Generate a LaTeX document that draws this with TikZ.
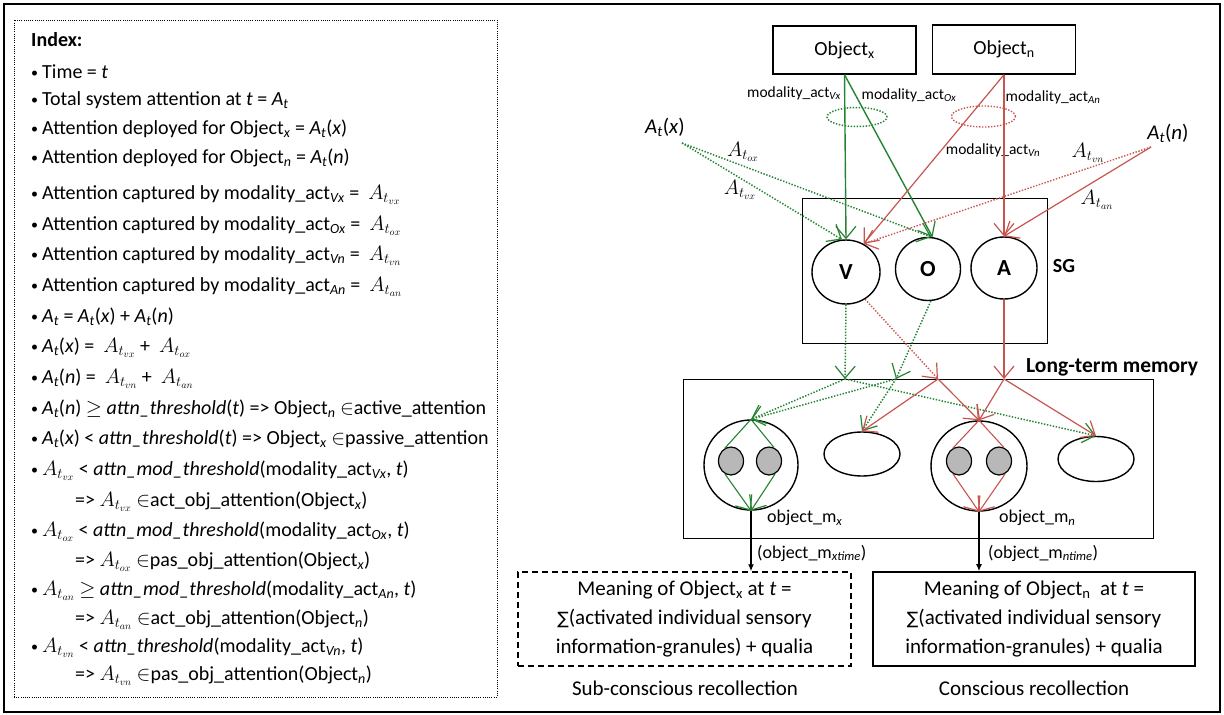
\documentclass[tikz,border=0pt]{standalone}
\usepackage{fontspec}
\setmainfont{Carlito}
\newfontfamily\dv{DejaVu Sans}
\usetikzlibrary{arrows.meta,shapes.geometric}
\definecolor{grn}{RGB}{36,132,50}
\definecolor{rd}{RGB}{200,84,80}
\newcommand{\At}{\textit{A}\textsubscript{\textit{t}}}
\newcommand{\Att}[1]{\ensuremath{A_{t_{#1}}}}
\newcommand{\sbi}[1]{\textsubscript{\textit{#1}}}
\newcommand{\bl}{\makebox[11pt][l]{\raisebox{1pt}{\fontsize{14}{14}\selectfont\textbullet}}}
\newcommand{\sm}{{\dv\fontsize{17}{17}\selectfont ∑}}
\begin{document}
\begin{tikzpicture}[x=1pt,y=-1pt,
  idx/.style={anchor=base west, inner sep=0pt, font=\fontsize{20}{23}\selectfont},
  box/.style={draw, line width=1.4pt, rectangle, inner sep=0pt},
  circ/.style={draw, line width=1.4pt, ellipse, inner sep=0pt, font=\fontsize{23}{26}\selectfont\bfseries},
  gcirc/.style={draw, line width=1.2pt, fill=black!28, ellipse, inner sep=0pt, minimum width=25pt, minimum height=28pt},
  gsol/.style={draw=grn, line width=1.4pt},
  rsol/.style={draw=rd, line width=1.2pt},
  gdot/.style={draw=grn, line width=1.5pt, dash pattern=on 1.4pt off 1.6pt},
  rdot/.style={draw=rd, line width=1.4pt, dash pattern=on 1.4pt off 1.6pt},
  barb/.style={-{Straight Barb[length=12pt,width=20pt,line width=1.2pt]}},
  lbl/.style={inner sep=0pt, font=\fontsize{15.5}{18}\selectfont},
  big/.style={inner sep=0pt, font=\fontsize{20}{29}\selectfont},
  btxt/.style={inner sep=0pt, font=\fontsize{21}{29}\selectfont},
  ]
\useasboundingbox (0,0) rectangle (1224,715);
\draw[line width=1.2pt] (4,4) rectangle (1220,712);

% ---------- index ----------
\node[draw, line width=1pt, dash pattern=on 1pt off 1.2pt, minimum width=483pt, minimum height=677pt, inner sep=0pt] (idxframe) at (255.5,358.5) {};
\node[idx] (l0) at (31,46.5) {\textbf{Index:}};
\node[idx] (l1) at (31,78.5) {\bl Time = \textit{t}};
\node[idx] (l2) at (31,105.5) {\bl Total system attention at \textit{t} = \At};
\node[idx] (l3) at (31,134.5) {\bl Attention deployed for Object\sbi{x} = \At(\textit{x})};
\node[idx] (l4) at (31,163.5) {\bl Attention deployed for Object\sbi{n} = \At(\textit{n})};
\node[idx] (l5) at (31,199.5) {\bl Attention captured by modality\_act\sbi{Vx} = ~\Att{vx}};
\node[idx] (l6) at (31,230.5) {\bl Attention captured by modality\_act\sbi{Ox} = ~\Att{ox}};
\node[idx] (l7) at (31,260.5) {\bl Attention captured by modality\_act\sbi{Vn} = ~\Att{vn}};
\node[idx] (l8) at (31,291.5) {\bl Attention captured by modality\_act\sbi{An} = ~\Att{an}};
\node[idx] (l9) at (31,322.5) {\bl \At{} = \At(\textit{x}) + \At(\textit{n})};
\node[idx] (l10) at (31,352.5) {\bl \At(\textit{x}) = ~\Att{vx} + ~\Att{ox}};
\node[idx] (l11) at (31,383.5) {\bl \At(\textit{n}) = ~\Att{vn} + ~\Att{an}};
\node[idx] (l12) at (31,414.5) {\bl \At(\textit{n}) $\geq$ \textit{attn\_threshold}(\textit{t}) => Object\sbi{n} $\in$active\_attention};
\node[idx] (l13) at (31,444.5) {\bl \At(\textit{x}) < \textit{attn\_threshold}(\textit{t}) => Object\sbi{x} $\in$passive\_attention};
\node[idx] (l14) at (31,475.5) {\bl \Att{vx} < \textit{attn\_mod\_threshold}(modality\_act\sbi{Vx}, \textit{t})};
\node[idx] (l15) at (75,506.5) {=> \Att{vx} $\in$act\_obj\_attention(Object\sbi{x})};
\node[idx] (l16) at (31,536.5) {\bl \Att{ox} < \textit{attn\_mod\_threshold}(modality\_act\sbi{Ox}, \textit{t})};
\node[idx] (l17) at (75,566.5) {=> \Att{ox} $\in$pas\_obj\_attention(Object\sbi{x})};
\node[idx] (l18) at (31,595.5) {\bl \Att{an} $\geq$ \textit{attn\_mod\_threshold}(modality\_act\sbi{An}, \textit{t})};
\node[idx] (l19) at (75,624.5) {=> \Att{an} $\in$act\_obj\_attention(Object\sbi{n})};
\node[idx] (l20) at (31,652.5) {\bl \Att{vn} < \textit{attn\_threshold}(modality\_act\sbi{Vn}, \textit{t})};
\node[idx] (l21) at (75,680.5) {=> \Att{vn} $\in$pas\_obj\_attention(Object\sbi{n})};

% ---------- objects ----------
\node[box, minimum width=143pt, minimum height=48pt, font=\fontsize{20}{24}\selectfont] (ox) at (844.5,50) {Object\textsubscript{x}};
\node[box, minimum width=143pt, minimum height=49pt, font=\fontsize{20}{24}\selectfont] (on) at (1004,49.5) {Object\textsubscript{n}};

\node[lbl] (mvx) at (794,93) {modality\_act\sbi{Vx}};
\node[lbl] (mox) at (909,95) {modality\_act\sbi{Ox}};
\node[lbl] (man) at (1053,97) {modality\_act\sbi{An}};
\node[lbl] (mvn) at (993,150) {modality\_act\sbi{Vn}};

\node[draw=grn, line width=1.5pt, dash pattern=on 1.4pt off 1.6pt, ellipse, inner sep=0pt, minimum width=60pt, minimum height=19pt] (ge) at (857,117) {};
\node[draw=rd, line width=1.4pt, dash pattern=on 1.4pt off 1.6pt, ellipse, inner sep=0pt, minimum width=64pt, minimum height=21pt] (re) at (983.5,116.5) {};

\node[inner sep=0pt, font=\fontsize{21}{24}\selectfont] (atxl) at (665,127) {\textit{A}\textsubscript{\textit{t}}(\textit{x})};
\node[inner sep=0pt, font=\fontsize{21}{24}\selectfont] (atnl) at (1168,133) {\textit{A}\textsubscript{\textit{t}}(\textit{n})};
\coordinate (atx) at (682,143);
\coordinate (atn) at (1151,147);
\node[big] (laox) at (743,152) {\Att{ox}};
\node[big] (lavx) at (740,190) {\Att{vx}};
\node[big] (lavn) at (1088,153) {\Att{vn}};
\node[big] (laan) at (1097,200) {\Att{an}};

% ---------- SG ----------
\node[draw, line width=1pt, minimum width=245pt, minimum height=145pt, inner sep=0pt] (sg) at (924.5,270.5) {};
\node[big, font=\fontsize{20}{24}\selectfont\bfseries] (sgl) at (1064,266) {SG};
\node[circ, minimum width=68pt, minimum height=64pt] (V) at (846,272) {V};
\node[circ, minimum width=65pt, minimum height=63pt] (O) at (928,269) {O};
\node[circ, minimum width=66pt, minimum height=62pt] (A) at (1004,268) {A};

% ---------- LTM ----------
\node[draw, line width=1pt, minimum width=470pt, minimum height=159pt, inner sep=0pt] (ltm) at (918,458.5) {};
\node[anchor=west, inner sep=0pt, font=\fontsize{21.5}{24}\selectfont\bfseries] (ltml) at (1026,367) {Long-term memory};
\node[circ, minimum width=94pt, minimum height=90pt] (lc) at (751,465) {};
\node[gcirc] (g1) at (731,461) {};
\node[gcirc] (g2) at (769,461) {};
\node[circ, minimum width=76pt, minimum height=44pt] (e1) at (862,454) {};
\node[circ, minimum width=96pt, minimum height=90pt] (rc) at (979,466) {};
\node[gcirc] (g3) at (959,461) {};
\node[gcirc] (g4) at (999,461) {};
\node[circ, minimum width=76pt, minimum height=45pt] (e2) at (1096,459) {};
\node[anchor=west, inner sep=0pt, font=\fontsize{18}{22}\selectfont] (omx) at (767,518) {object\_m\sbi{x}};
\node[anchor=west, inner sep=0pt, font=\fontsize{18}{22}\selectfont] (omn) at (999,518) {object\_m\sbi{n}};
\node[anchor=west, inner sep=0pt, font=\fontsize{18}{22}\selectfont] (omxt) at (757,553) {(object\_m\sbi{xtime})};
\node[anchor=west, inner sep=0pt, font=\fontsize{18}{22}\selectfont] (omnt) at (988,553) {(object\_m\sbi{ntime})};

\coordinate (G1) at (845,379);
\coordinate (G2) at (896,379);
\coordinate (R1) at (938,379);
\coordinate (R2) at (1004,379);

% ---------- bottom ----------
\node[draw, line width=1.5pt, dash pattern=on 6pt off 4pt, minimum width=333pt, minimum height=94pt, inner sep=0pt, align=center, font=\fontsize{21}{29}\selectfont] (db) at (684.5,619) {Meaning of Object\textsubscript{x} at \textit{t} =\\ \sm(activated individual sensory\\ information-granules) + qualia};
\node[draw, line width=1.6pt, minimum width=322pt, minimum height=94pt, inner sep=0pt, align=center, font=\fontsize{21}{29}\selectfont] (cb) at (1034,619) {Meaning of Object\textsubscript{n}\ \ at \textit{t} =\\ \sm(activated individual sensory\\ information-granules) + qualia};
\node[btxt] (subl) at (685,688) {Sub-conscious recollection};
\node[btxt] (conl) at (1034,688) {Conscious recollection};

% ---------- connectors ----------
\draw[gsol,barb] (ox.south) -- (V.north);
\draw[gsol,barb] (ox.south) -- (O.82);
\draw[rsol,barb] (on.south) -- (V.58);
\draw[rsol,barb] (on.south) -- (A.north);
\draw[gdot,barb] (atx) -- (V.97);
\draw[gdot,barb] (atx) -- (O.84);
\draw[rdot,barb] (atn) -- (V.58);
\draw[rsol,barb] (atn) -- (A.north);

\draw[gdot,barb] (V.south) -- (G1);
\draw[gdot,barb] (O.-85) -- (G2);
\draw[rdot,barb] (V.-55) -- (R1);
\draw[rsol,barb] (A.south) -- (R2);

\draw[gdot,barb] (G1) -- (lc.north);
\draw[gdot,barb] (G1) -- (e2.north);
\draw[gdot,barb] (G2) -- (lc.north);
\draw[gdot,barb] (G2) -- (e1.north);
\draw[rsol,barb] (R1) -- (e1.north);
\draw[rsol,barb] (R1) -- (rc.north);
\draw[rsol,barb] (R2) -- (rc.north);
\draw[rsol,barb] (R2) -- (e2.north);

\draw[gsol, line width=1.1pt] (lc.north) -- (g1.115);
\draw[gsol, line width=1.1pt] (lc.north) -- (g2.70);
\draw[gsol, line width=1.1pt, barb] (g1.-115) -- (lc.south);
\draw[gsol, line width=1.1pt, barb] (g2.-65) -- (lc.south);
\draw[rsol, line width=1.1pt] (rc.north) -- (g3.115);
\draw[rsol, line width=1.1pt] (rc.north) -- (g4.70);
\draw[rsol, line width=1.1pt, barb] (g3.-115) -- (rc.south);
\draw[rsol, line width=1.1pt, barb] (g4.-65) -- (rc.south);

\draw[line width=1.3pt, -{Latex[length=7pt,width=6pt]}] (lc.south) -- (lc.south |- db.north);
\draw[line width=1.3pt, -{Latex[length=7pt,width=6pt]}] (rc.south) -- (rc.south |- cb.north);
\end{tikzpicture}
\end{document}
